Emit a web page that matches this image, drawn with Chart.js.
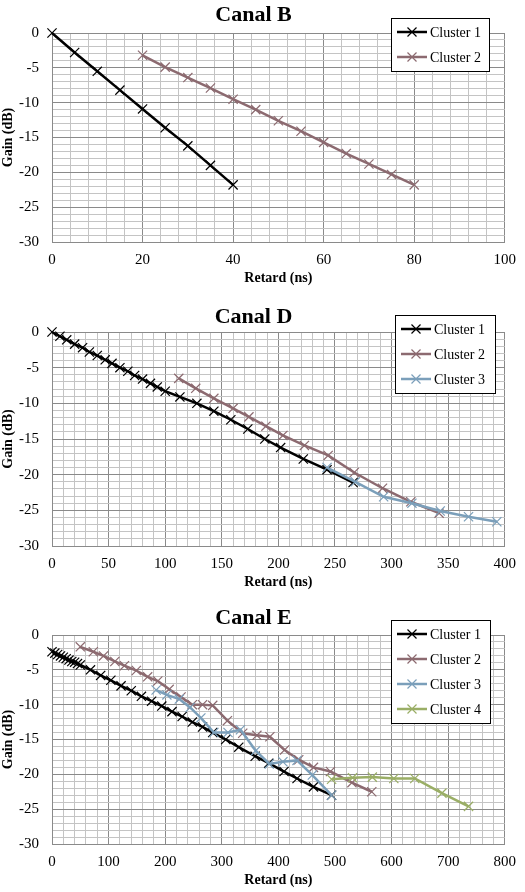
<!DOCTYPE html>
<html>
<head>
<meta charset="utf-8">
<script src="https://cdn.jsdelivr.net/npm/chart.js@4/dist/chart.umd.min.js"></script>
<style>
  html, body { margin: 0; padding: 0; background: #fff; }
  #page { position: relative; width: 525px; height: 892px; }
  #page canvas { position: absolute; left: 0; }
</style>
</head>
<body>
<div id="page">
  <canvas id="chartB" width="525" height="297" style="top:0px"></canvas>
  <canvas id="chartD" width="525" height="300" style="top:297px"></canvas>
  <canvas id="chartE" width="525" height="295" style="top:597px"></canvas>
</div>
<script>
// Canal B
const bC1x = [0, 5, 10, 15, 20, 25, 30, 35, 40];
const bC1y = [0, -2.8, -5.5, -8.2, -10.9, -13.6, -16.2, -19.0, -21.8];
const bC2x = [20, 25, 30, 35, 40, 45, 50, 55, 60, 65, 70, 75, 80];
const bC2y = [-3.2, -4.9, -6.4, -7.9, -9.5, -11.0, -12.6, -14.1, -15.7, -17.3, -18.8, -20.3, -21.8];

// Canal D
const dC1x = [0, 7, 13, 20, 27, 33, 40, 47, 53, 60, 67, 73, 80, 87, 93, 100, 113, 128, 143, 158, 173, 188, 202, 222, 243, 266];
const dC1y = [0, -0.6, -1.1, -1.7, -2.2, -2.8, -3.3, -3.9, -4.4, -5.0, -5.5, -6.1, -6.6, -7.2, -7.7, -8.3, -9.1, -10.0, -11.1, -12.3, -13.6, -15.0, -16.2, -17.8, -19.3, -21.1];
const dC2x = [112, 127, 143, 160, 174, 189, 204, 223, 244, 267, 292, 317, 342];
const dC2y = [-6.5, -7.9, -9.3, -10.7, -11.9, -13.2, -14.5, -15.9, -17.3, -19.7, -21.9, -23.8, -25.4];
const dC3x = [243, 268, 293, 318, 343, 368, 393];
const dC3y = [-19.0, -21.0, -23.1, -24.0, -25.1, -25.9, -26.6];

// Canal E
const eC1x = [0, 5, 10, 15, 20, 25, 30, 35, 40, 45, 50, 68, 86, 104, 122, 140, 158, 176, 194, 212, 230, 248, 266, 284, 307, 330, 359, 383, 410, 433, 462, 494];
const eC1y = [-2.4, -2.6, -2.8, -3.0, -3.2, -3.4, -3.6, -3.8, -3.9, -4.1, -4.3, -5.0, -5.8, -6.5, -7.3, -8.0, -8.8, -9.5, -10.2, -11.0, -11.7, -12.5, -13.2, -14.0, -15.0, -16.1, -17.4, -18.4, -19.6, -20.6, -21.8, -23.0];
const eC2x = [50, 73, 91, 111, 128, 149, 169, 187, 207, 228, 248, 266, 284, 310, 337, 362, 385, 411, 436, 462, 492, 530, 565];
const eC2y = [-1.7, -2.4, -3.0, -3.8, -4.4, -5.1, -6.0, -6.6, -7.8, -8.9, -10.0, -10.0, -10.1, -12.3, -14.1, -14.4, -14.6, -16.5, -17.9, -19.0, -19.6, -21.2, -22.5];
const eC3x = [184, 203, 225, 244, 263, 286, 311, 333, 360, 384, 408, 433, 460, 494];
const eC3y = [-7.9, -8.6, -9.2, -10.4, -11.9, -14.0, -14.0, -13.6, -16.6, -18.5, -18.2, -18.0, -20.1, -23.0];
const eC4x = [494, 531, 566, 604, 641, 689, 736];
const eC4y = [-20.7, -20.5, -20.4, -20.6, -20.6, -22.7, -24.6];

const seriesNames = ['Cluster 1', 'Cluster 2', 'Cluster 3', 'Cluster 4'];
const seriesColors = ['#000000', '#8c6a70', '#7b9fba', '#9aae66'];

const FONT = "'Liberation Serif', 'Times New Roman', serif";
const MAJOR_GRID = '#8a8a8a';
const MINOR_GRID = '#c4c4c4';

function toPoints(xs, ys) {
  return xs.map(function(x, i) { return {x: x, y: ys[i]}; });
}

function isMajor(v, step) {
  return Math.abs(v / step - Math.round(v / step)) < 1e-6;
}

// legend drawn inside the plot, like the excel box
const boxLegend = {
  id: 'boxLegend',
  afterDraw: function(chart, args, opts) {
    const ctx = chart.ctx;
    const sets = chart.data.datasets;
    const h = 28 + (sets.length - 1) * 25;
    ctx.save();
    ctx.fillStyle = '#fff';
    ctx.fillRect(opts.x, opts.y, opts.w, h);
    ctx.strokeStyle = '#000';
    ctx.lineWidth = 1;
    ctx.strokeRect(opts.x + 0.5, opts.y + 0.5, opts.w, h);
    sets.forEach(function(ds, i) {
      const cy = opts.y + 14 + i * 25;
      ctx.strokeStyle = ds.borderColor;
      ctx.lineWidth = 2.5;
      ctx.beginPath();
      ctx.moveTo(opts.x + 6, cy);
      ctx.lineTo(opts.x + 36, cy);
      ctx.stroke();
      ctx.lineWidth = 1.2;
      ctx.beginPath();
      ctx.moveTo(opts.x + 16.5, cy - 4.5);
      ctx.lineTo(opts.x + 25.5, cy + 4.5);
      ctx.moveTo(opts.x + 25.5, cy - 4.5);
      ctx.lineTo(opts.x + 16.5, cy + 4.5);
      ctx.stroke();
      ctx.fillStyle = '#000';
      ctx.font = '14px ' + FONT;
      ctx.textBaseline = 'middle';
      ctx.fillText(ds.label, opts.x + 39, cy + 1);
    });
    ctx.restore();
  }
};

function makeChart(id, title, xs, ys, xMax, xMajor, xMinor, pad, legendPos) {
  const datasets = xs.map(function(x, i) {
    return {
      label: seriesNames[i],
      data: toPoints(x, ys[i]),
      borderColor: seriesColors[i],
      backgroundColor: seriesColors[i],
      borderWidth: 2.5,
      pointStyle: 'crossRot',
      pointRadius: 6.5,
      pointBorderWidth: 1.2,
      pointHoverRadius: 6.5,
      tension: 0,
      clip: false,
      order: xs.length - i
    };
  });

  return new Chart(document.getElementById(id), {
    type: 'line',
    data: { datasets: datasets },
    options: {
      responsive: false,
      animation: false,
      layout: { padding: { left: 0, right: 18, top: 0, bottom: pad.bottom } },
      plugins: {
        legend: { display: false },
        tooltip: { enabled: false },
        title: {
          display: true,
          text: title,
          color: '#000',
          font: { family: FONT, size: 22, weight: 'bold' },
          padding: { top: pad.titleTop, bottom: pad.titleBottom }
        },
        boxLegend: legendPos
      },
      scales: {
        x: {
          type: 'linear',
          min: 0,
          max: xMax,
          afterFit: function(s) { s.height = 45; },
          grid: {
            drawTicks: false,
            color: function(c) { return isMajor(c.tick.value, xMajor) ? MAJOR_GRID : MINOR_GRID; }
          },
          border: { color: MAJOR_GRID },
          ticks: {
            stepSize: xMinor,
            autoSkip: false,
            maxRotation: 0,
            padding: 9,
            color: '#000',
            font: { family: FONT, size: 15 },
            callback: function(v) { return isMajor(v, xMajor) ? String(Math.round(v)) : ''; }
          },
          title: {
            display: true,
            text: 'Retard (ns)',
            color: '#000',
            font: { family: FONT, size: 14, weight: 'bold' },
            padding: 0
          }
        },
        y: {
          min: -30,
          max: 0,
          afterFit: function(s) { s.width = 52; },
          grid: {
            drawTicks: false,
            color: function(c) { return isMajor(c.tick.value, 5) ? MAJOR_GRID : MINOR_GRID; }
          },
          border: { color: MAJOR_GRID },
          ticks: {
            stepSize: 1,
            autoSkip: false,
            padding: 13,
            color: '#000',
            font: { family: FONT, size: 15 },
            callback: function(v) { return isMajor(v, 5) ? String(Math.round(v)) : ''; }
          },
          title: {
            display: true,
            text: 'Gain (dB)',
            color: '#000',
            font: { family: FONT, size: 14, weight: 'bold' },
            padding: 0
          }
        }
      }
    },
    plugins: [boxLegend]
  });
}

makeChart('chartB', 'Canal B', [bC1x, bC2x], [bC1y, bC2y], 100, 20, 4,
  { titleTop: 2, titleBottom: 4.6, bottom: 10 }, { x: 391, y: 18, w: 98 });
makeChart('chartD', 'Canal D', [dC1x, dC2x, dC3x], [dC1y, dC2y, dC3y], 400, 50, 10,
  { titleTop: 6.8, titleBottom: 1.8, bottom: 6 }, { x: 395, y: 18, w: 100 });
makeChart('chartE', 'Canal E', [eC1x, eC2x, eC3x, eC4x], [eC1y, eC2y, eC3y, eC4y], 800, 100, 20,
  { titleTop: 8.3, titleBottom: 3.3, bottom: 3 }, { x: 391, y: 23, w: 99 });
</script>
</body>
</html>
